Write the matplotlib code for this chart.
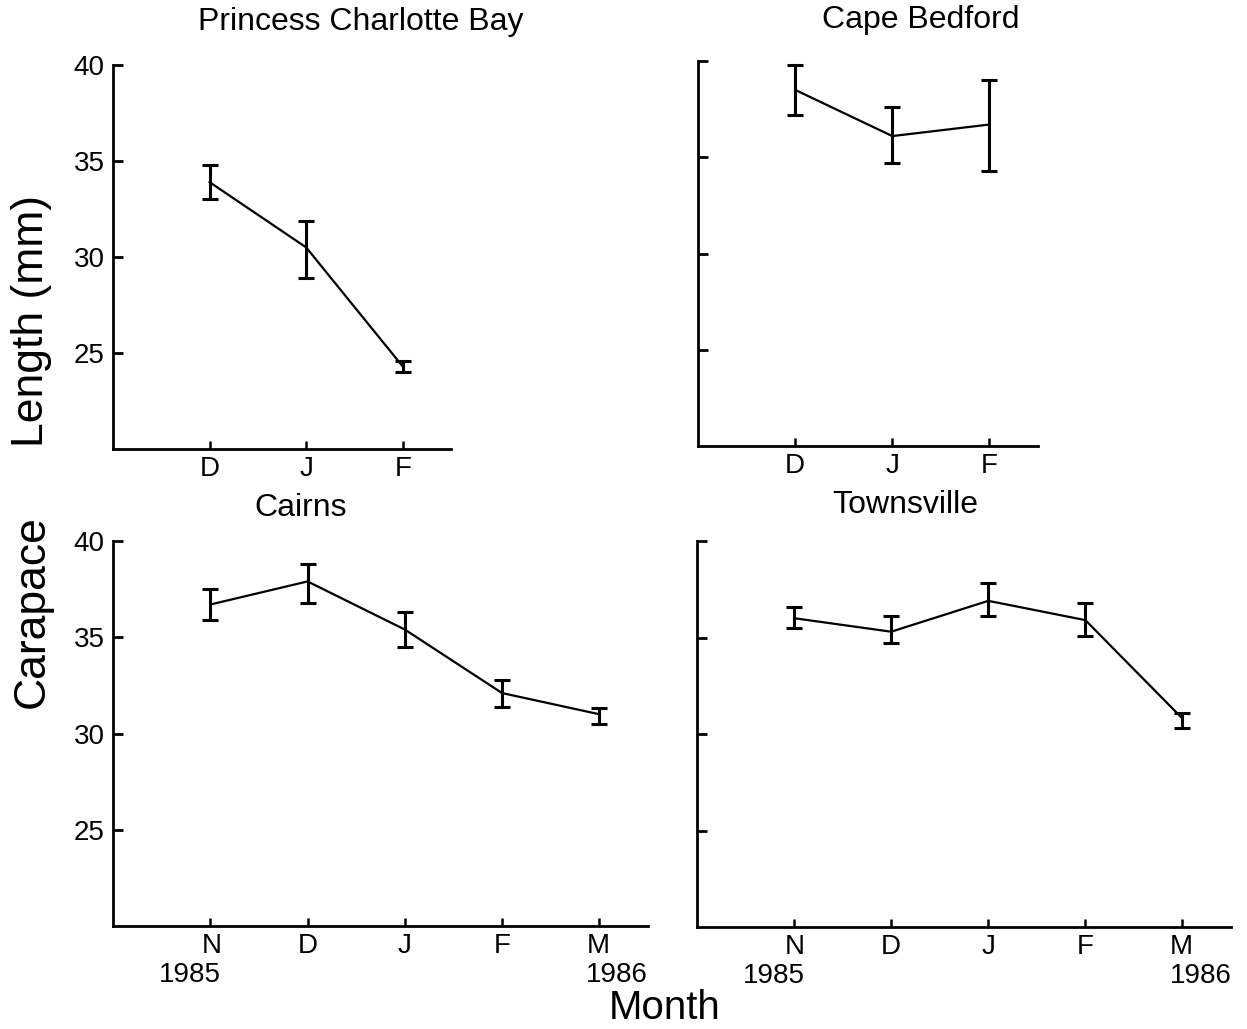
import matplotlib
matplotlib.use("Agg")
import matplotlib.pyplot as plt
import matplotlib.transforms as mtransforms

plt.rcParams['font.family'] = ['Liberation Sans', 'DejaVu Sans']

W, H = 1247, 1029

# ---- data ----
months_top = ["D", "J", "F"]
months_bottom = ["N\n1985", "D", "J", "F", "M\n1986"]

pcb_mean = [33.9, 30.5, 24.3]
pcb_low = [33.0, 28.9, 24.0]
pcb_high = [34.8, 31.9, 24.6]

cb_mean = [38.5, 36.1, 36.7]
cb_low = [37.2, 34.7, 34.3]
cb_high = [39.8, 37.6, 39.0]

cairns_mean = [36.7, 37.9, 35.4, 32.1, 31.0]
cairns_low = [35.9, 36.8, 34.5, 31.4, 30.5]
cairns_high = [37.5, 38.8, 36.3, 32.8, 31.3]

tsv_mean = [36.0, 35.3, 36.9, 35.9, 30.8]
tsv_low = [35.5, 34.7, 36.1, 35.1, 30.3]
tsv_high = [36.6, 36.1, 37.8, 36.8, 31.1]

yticks = [25, 30, 35, 40]
titles = ["Princess Charlotte Bay", "Cape Bedford", "Cairns", "Townsville"]

fig = plt.figure(figsize=(W / 100, H / 100), dpi=100)


def rect(left, top, right, bottom):
    return [left / W, 1 - bottom / H, (right - left) / W, (bottom - top) / H]


def panel(r, labels, mean, low, high, show_ylabels):
    ax = fig.add_axes(r)
    x = list(range(1, len(labels) + 1))
    yerr = [[m - l for m, l in zip(mean, low)], [h - m for m, h in zip(mean, high)]]
    ax.errorbar(x, mean, yerr=yerr, color='black', lw=1.6, elinewidth=2.2,
                capsize=5.5, capthick=2.2)
    ax.set_xlim(0, len(labels) + 0.5)
    ax.set_ylim(20, 40)
    ax.set_xticks(x)
    ax.set_xticklabels(labels, fontsize=20, linespacing=1.15)
    ax.set_yticks(yticks)
    if show_ylabels:
        ax.set_yticklabels([str(t) for t in yticks], fontsize=20)
    else:
        ax.set_yticklabels([])
    for s in ['top', 'right']:
        ax.spines[s].set_visible(False)
    for s in ['left', 'bottom']:
        ax.spines[s].set_linewidth(2)
    ax.tick_params(axis='y', direction='in', length=7, width=2, pad=6)
    ax.tick_params(axis='x', direction='in', length=6, width=1.8, pad=5)
    if len(labels) == 5:
        tl = ax.get_xticklabels()
        first, last = tl[0], tl[-1]
        first.set_horizontalalignment('right')
        first.set_multialignment('right')
        first.set_transform(first.get_transform() +
                            mtransforms.ScaledTranslation(11 / 100, 0, fig.dpi_scale_trans))
        last.set_horizontalalignment('left')
        last.set_multialignment('left')
        last.set_transform(last.get_transform() +
                           mtransforms.ScaledTranslation(-13 / 100, 0, fig.dpi_scale_trans))
    return ax


panel(rect(113, 65, 451, 449), months_top, pcb_mean, pcb_low, pcb_high, True)
panel(rect(698, 61, 1038, 446), months_top, cb_mean, cb_low, cb_high, False)
panel(rect(113, 541, 648, 926), months_bottom, cairns_mean, cairns_low, cairns_high, True)
panel(rect(697, 541, 1231, 927), months_bottom, tsv_mean, tsv_low, tsv_high, False)

title_pos = [(361, 22), (921, 20), (301, 508), (905, 505)]
for t, (px, py) in zip(titles, title_pos):
    fig.text(px / W, 1 - py / H, t, ha='center', va='center', fontsize=23)

fig.text(32 / W, 1 - 321 / H, "Length (mm)", rotation=90, ha='center', va='center', fontsize=32)
fig.text(32 / W, 1 - 612 / H, "Carapace", rotation=90, ha='center', va='center', fontsize=32)
fig.text(665 / W, 1 - 1008 / H, "Month", ha='center', va='center', fontsize=29)

fig.savefig("out.png", dpi=100)
